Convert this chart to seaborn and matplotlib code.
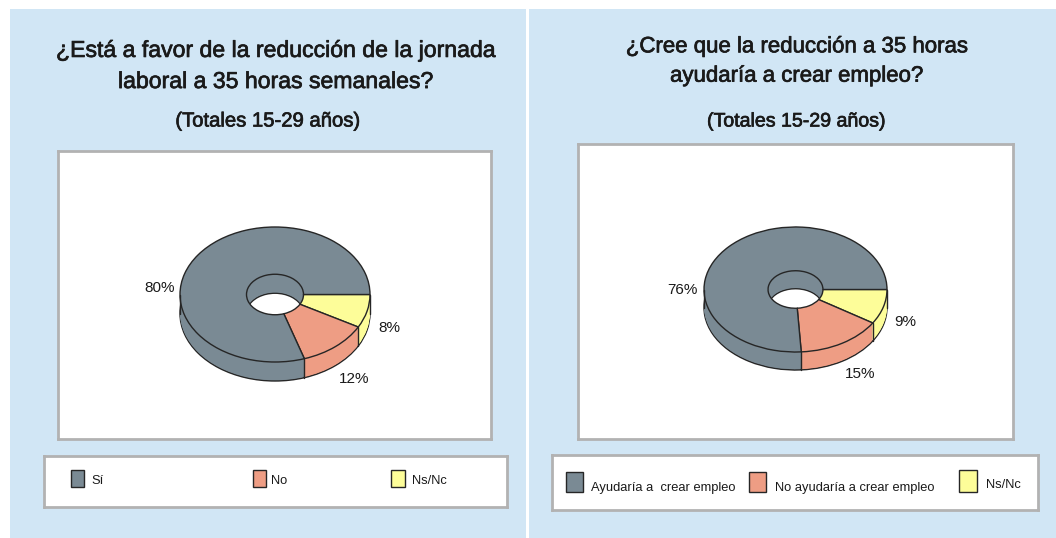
import numpy as np
import matplotlib
matplotlib.use("Agg")
import matplotlib.pyplot as plt
import matplotlib.patheffects as pe
from matplotlib.patches import Rectangle
import seaborn as sns

# data
title_left = "¿Está a favor de la reducción de la jornada\nlaboral a 35 horas semanales?"
title_right = "¿Cree que la reducción a 35 horas\nayudaría a crear empleo?"
subtitle = "(Totales 15-29 años)"
values_left = [8, 12, 80]
values_right = [9, 15, 76]
labels_left = ["Ns/Nc", "No", "Sí"]
labels_right = ["Ns/Nc", "No ayudaría a crear empleo", "Ayudaría a  crear empleo"]

W, H = 1056, 538
sns.set_theme(style="white")
plt.rcParams['font.family'] = ['Liberation Sans', 'DejaVu Sans']
colors = sns.color_palette(["#fdfd99", "#ee9d84", "#7a8a94"])
edge = "#262626"
frame = "#b2b2b2"
panel = "#d1e6f5"

fig = plt.figure(figsize=(W / 100, H / 100), dpi=100, facecolor="white")


def px_axes(l, t, r, b):
    ax = fig.add_axes([l / W, 1 - b / H, (r - l) / W, (b - t) / H])
    for s in ax.spines.values():
        s.set_color(frame)
        s.set_linewidth(2.0)
    ax.set_xticks([])
    ax.set_yticks([])
    return ax


def donut(box, cx, cy, rx, ry, depth, values):
    l, t, r, b = box
    ax = px_axes(l, t, r, b)
    d = depth / ry
    # stacked layers make the side wall, bottom layer carries the outline
    n = int(depth)
    for k in range(n, 0, -1):
        lw = 1.0 if k == n else 0
        ax.pie(values, colors=colors, startangle=0, counterclock=False,
               center=(0, -d * k / n), radius=1,
               wedgeprops=dict(width=0.7, edgecolor=edge, linewidth=lw))
    ax.pie(values, colors=colors, startangle=0, counterclock=False,
           center=(0, 0), radius=1,
           wedgeprops=dict(width=0.7, edgecolor=edge, linewidth=1.0))
    # vertical edges of the wall
    angles = np.cumsum(values) / np.sum(values) * 2 * np.pi
    for a in [0, np.pi, angles[0], angles[1]]:
        x, y = np.cos(a), -np.sin(a)
        ax.plot([x, x], [y, y - d], color=edge, lw=1.0, zorder=5)
    ax.set_frame_on(True)
    ax.set_aspect("auto")
    ax.set_xlim((l - cx) / rx, (r - cx) / rx)
    ax.set_ylim((cy - b) / ry, (cy - t) / ry)
    ax.set_xticks([])
    ax.set_yticks([])
    return ax


def legend_box(box, swatches, labels, text_x, text_y):
    l, t, r, b = box
    ax = px_axes(l, t, r, b)
    ax.set_xlim(l, r)
    ax.set_ylim(b, t)
    for sw, c, lab, tx, ty in zip(swatches, colors, labels, text_x, text_y):
        ax.add_patch(Rectangle((sw[0], sw[1]), sw[2] - sw[0], sw[3] - sw[1],
                               facecolor=c, edgecolor=edge, lw=1.0))
        ax.text(tx, ty, lab, fontsize=9.3, color="#1a1a1a", va="center", ha="left")


def px_text(x, y, s, size, bold=False, **kw):
    t = fig.text(x / W, 1 - y / H, s, fontsize=size, color="#1a1a1a",
                 ha="center", va="center", **kw)
    if bold:
        t.set_path_effects([pe.withStroke(linewidth=0.5, foreground="#1a1a1a")])
    return t


# panels
fig.patches.append(Rectangle((10 / W, 0), 516 / W, 1 - 9 / H, transform=fig.transFigure,
                             facecolor=panel, edgecolor="none", zorder=-5))
fig.patches.append(Rectangle((529 / W, 0), 527 / W, 1 - 9 / H, transform=fig.transFigure,
                             facecolor=panel, edgecolor="none", zorder=-5))

donut((58, 151, 491, 439), 275, 294.5, 95, 67.5, 19, values_left)
donut((578, 144, 1013, 439), 795.5, 289.5, 91.5, 62.5, 18, values_right)

legend_box((44, 456, 507, 507),
           [(391, 470, 405, 487), (253, 470, 266, 487), (71, 470, 84, 487)],
           labels_left, [412, 271, 91], [481, 481, 481])
legend_box((552, 455, 1038, 510),
           [(959, 470, 977, 492), (749, 472, 766, 492), (566, 472, 583, 492)],
           labels_right, [986, 775, 591], [485, 488, 488])

# titles
px_text(275, 66, title_left, 16.6, bold=True, linespacing=1.45)
px_text(268, 121, subtitle, 14.6, bold=True)
px_text(797, 61.5, title_right, 16, bold=True, linespacing=1.52)
px_text(797, 121, subtitle, 14.1, bold=True)

# slice labels
for x, y, v in zip([389, 354, 160], [328, 379, 288], values_left):
    px_text(x, y, f"{v}%", 11)
for x, y, v in zip([905, 860, 682], [322, 374, 290], values_right):
    px_text(x, y, f"{v}%", 11)

fig.savefig("out.png", dpi=100)
